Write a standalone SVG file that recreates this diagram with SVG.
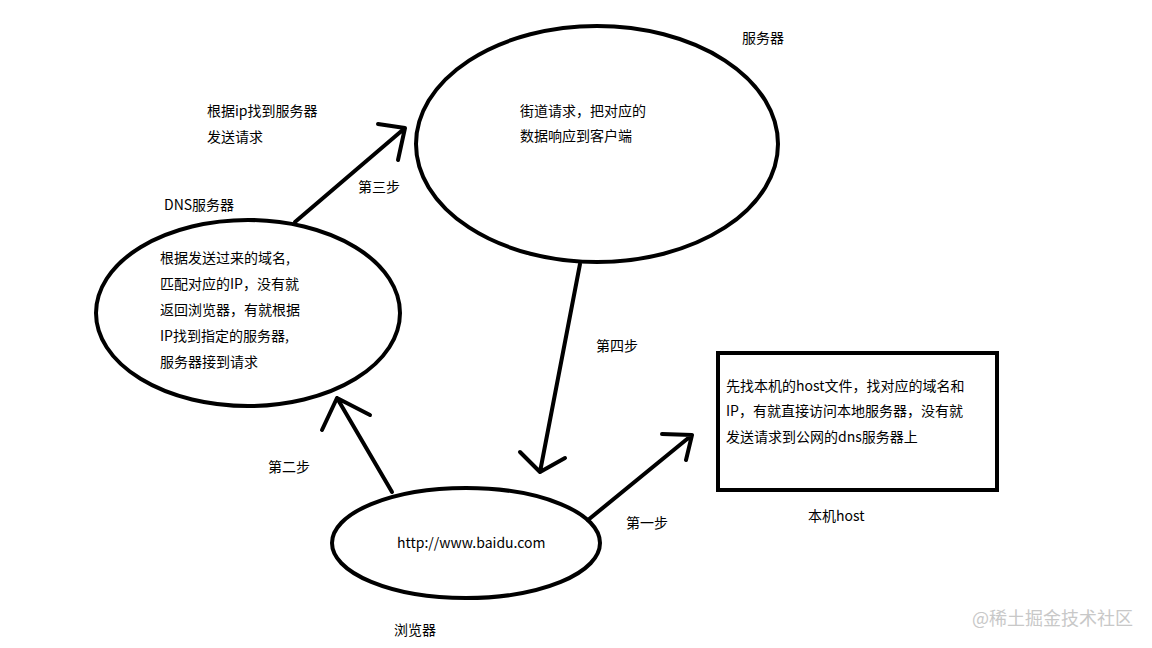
<svg xmlns="http://www.w3.org/2000/svg" width="1152" height="648" viewBox="0 0 1152 648">
<style>
.n{fill:none;stroke:#000;stroke-width:4}
.c{fill:none;stroke:#000;stroke-width:4;stroke-linecap:round;stroke-linejoin:round}
text{font-family:"Microsoft YaHei","Noto Sans CJK SC",sans-serif;font-size:14px;fill:#000}
</style>
<rect width="1152" height="648" fill="#fff"/>
<g id="server"><ellipse class="n" cx="597" cy="144" rx="181" ry="118"/>
<text x="520" y="116">街道请求，把对应的</text><text x="520" y="141">数据响应到客户端</text>
<text x="742" y="43">服务器</text></g>
<g id="dns"><ellipse class="n" cx="248" cy="313" rx="152" ry="93"/>
<text x="160" y="263">根据发送过来的域名,</text><text x="160" y="289">匹配对应的IP，没有就</text>
<text x="160" y="315">返回浏览器，有就根据</text><text x="160" y="341">IP找到指定的服务器,</text>
<text x="160" y="367">服务器接到请求</text><text x="164" y="210">DNS服务器</text></g>
<g id="browser"><ellipse class="n" cx="466" cy="543" rx="134" ry="55"/>
<text x="397" y="548">http://www.baidu.com</text><text x="394" y="635">浏览器</text></g>
<g id="host"><rect class="n" x="718" y="353" width="279" height="137"/>
<text x="726" y="391">先找本机的host文件，找对应的域名和</text><text x="726" y="416">IP，有就直接访问本地服务器，没有就</text>
<text x="726" y="442">发送请求到公网的dns服务器上</text><text x="808" y="521">本机host</text></g>
<g id="connectors">
<path class="c" d="M295 222L405 128M378 124L405 128L398 160"/>
<path class="c" d="M580 264L540 472M520 452L540 472L565 458"/>
<path class="c" d="M392 492L337 398M322 430L337 398L370 415"/>
<path class="c" d="M588 520L692 435M662 434L692 435L686 460"/>
<text x="207" y="116">根据ip找到服务器</text><text x="207" y="142">发送请求</text>
<text x="358" y="192">第三步</text><text x="596" y="351">第四步</text>
<text x="268" y="472">第二步</text><text x="626" y="528">第一步</text>
</g>
<text x="972" y="625" style="font-size:18px;fill:#c8c8c8">@稀土掘金技术社区</text>
</svg>
